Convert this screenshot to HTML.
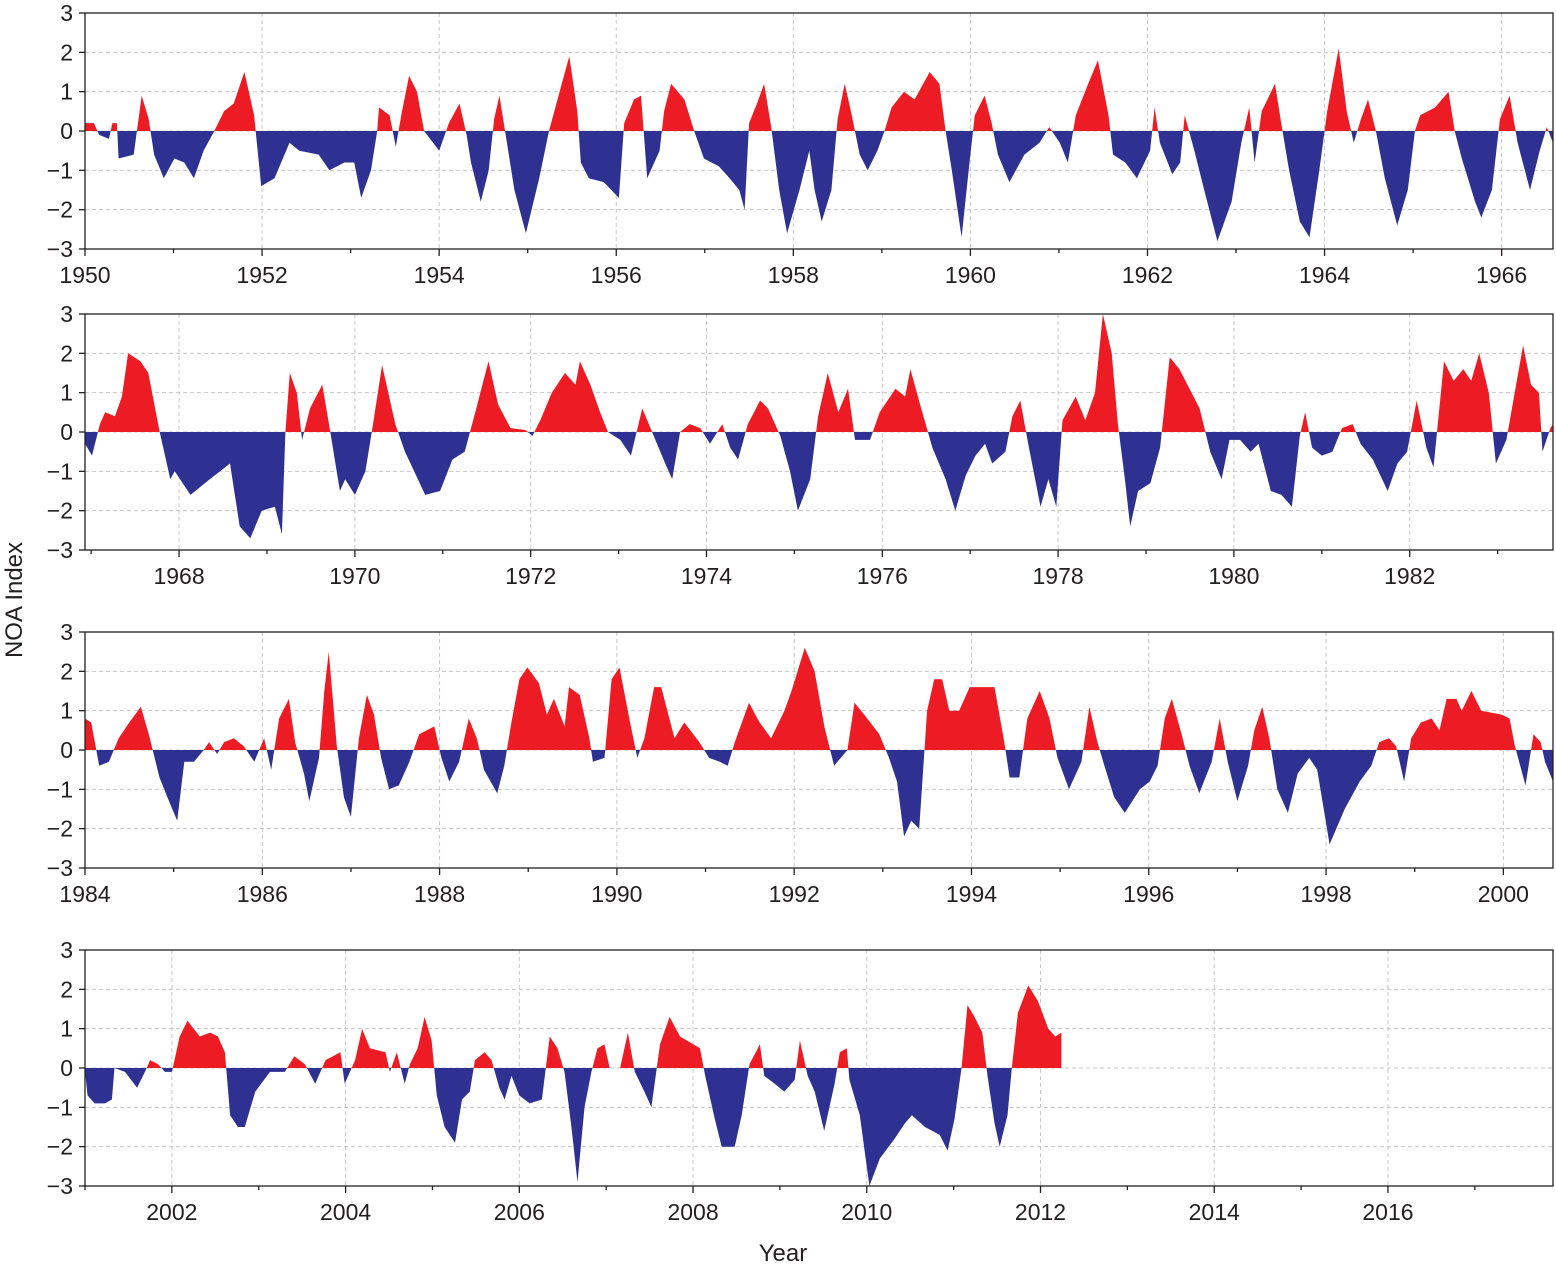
<!DOCTYPE html>
<html><head><meta charset="utf-8">
<style>
html,body{margin:0;padding:0;background:#fff;}
svg{display:block;font-family:"Liberation Sans",Arial,sans-serif;}
</style></head>
<body>
<svg id="chart" width="1556" height="1265" viewBox="0 0 1556 1265" xmlns="http://www.w3.org/2000/svg">
<text x="0" y="0" transform="translate(22,600) rotate(-90)" text-anchor="middle" font-size="24" fill="#231f20">NOA Index</text>
<text x="783" y="1261" text-anchor="middle" font-size="24" fill="#231f20">Year</text>
</svg>
<script>
const yTicks = [-3,-2,-1,0,1,2,3];
const p1Years = [1950.00,1950.10,1950.16,1950.27,1950.31,1950.36,1950.38,1950.55,1950.64,1950.72,1950.78,1950.89,1951.01,1951.12,1951.23,1951.34,1951.46,1951.57,1951.68,1951.80,1951.91,1951.99,1952.14,1952.31,1952.42,1952.64,1952.76,1952.93,1953.04,1953.12,1953.23,1953.30,1953.32,1953.44,1953.51,1953.58,1953.66,1953.75,1953.83,1954.00,1954.11,1954.23,1954.31,1954.36,1954.47,1954.56,1954.62,1954.68,1954.73,1954.85,1954.98,1955.13,1955.24,1955.36,1955.47,1955.56,1955.60,1955.69,1955.86,1956.03,1956.09,1956.20,1956.28,1956.35,1956.49,1956.54,1956.62,1956.77,1956.88,1956.99,1957.16,1957.28,1957.39,1957.45,1957.50,1957.59,1957.67,1957.75,1957.84,1957.93,1958.07,1958.18,1958.24,1958.32,1958.43,1958.50,1958.58,1958.66,1958.75,1958.84,1958.95,1959.03,1959.11,1959.25,1959.37,1959.54,1959.65,1959.72,1959.79,1959.90,1959.99,1960.05,1960.16,1960.24,1960.31,1960.44,1960.61,1960.78,1960.89,1961.01,1961.10,1961.19,1961.33,1961.44,1961.56,1961.61,1961.75,1961.88,1962.03,1962.08,1962.14,1962.28,1962.37,1962.42,1962.53,1962.64,1962.79,1962.95,1963.06,1963.15,1963.21,1963.29,1963.44,1963.51,1963.60,1963.72,1963.83,1963.94,1964.03,1964.16,1964.25,1964.33,1964.41,1964.49,1964.58,1964.68,1964.82,1964.94,1965.02,1965.08,1965.25,1965.40,1965.47,1965.55,1965.70,1965.77,1965.89,1965.98,1966.09,1966.18,1966.32,1966.43,1966.51,1966.58];
const p1Values = [0.2,0.2,-0.1,-0.2,0.2,0.2,-0.7,-0.6,0.9,0.3,-0.6,-1.2,-0.7,-0.8,-1.2,-0.5,0,0.5,0.7,1.5,0.4,-1.4,-1.2,-0.3,-0.5,-0.6,-1.0,-0.8,-0.8,-1.7,-1.0,0,0.6,0.4,-0.4,0.5,1.4,1.0,0,-0.5,0.2,0.7,-0.1,-0.8,-1.8,-1.0,0.3,0.9,0.2,-1.5,-2.6,-1.2,0,1.0,1.9,0.5,-0.8,-1.2,-1.3,-1.7,0.2,0.8,0.9,-1.2,-0.5,0.5,1.2,0.8,0,-0.7,-0.9,-1.2,-1.5,-2.0,0.2,0.7,1.2,0.1,-1.5,-2.6,-1.5,-0.5,-1.5,-2.3,-1.5,0.3,1.2,0.4,-0.6,-1.0,-0.5,0,0.6,1.0,0.8,1.5,1.2,0,-1.0,-2.7,-0.8,0.4,0.9,0.2,-0.6,-1.3,-0.6,-0.3,0.1,-0.3,-0.8,0.4,1.2,1.8,0.4,-0.6,-0.8,-1.2,-0.5,0.6,-0.3,-1.1,-0.8,0.4,-0.5,-1.5,-2.8,-1.8,-0.3,0.6,-0.8,0.5,1.2,0.2,-1.0,-2.3,-2.7,-1.0,0.5,2.1,0.5,-0.3,0.3,0.8,0,-1.2,-2.4,-1.5,0,0.4,0.6,1.0,0,-0.7,-1.8,-2.2,-1.5,0.3,0.9,-0.3,-1.5,-0.5,0.1,-0.3];
const p2Years = [1966.93,1967.01,1967.10,1967.16,1967.27,1967.35,1967.42,1967.56,1967.65,1967.78,1967.90,1967.95,1968.13,1968.35,1968.58,1968.69,1968.81,1968.94,1969.09,1969.17,1969.21,1969.26,1969.34,1969.40,1969.49,1969.63,1969.72,1969.83,1969.89,1970.00,1970.12,1970.20,1970.31,1970.46,1970.57,1970.80,1970.97,1971.11,1971.25,1971.37,1971.52,1971.63,1971.77,1971.94,1972.02,1972.11,1972.24,1972.39,1972.51,1972.56,1972.68,1972.79,1972.88,1973.02,1973.14,1973.27,1973.40,1973.53,1973.61,1973.70,1973.81,1973.93,1974.04,1974.18,1974.27,1974.36,1974.47,1974.61,1974.70,1974.84,1974.95,1975.04,1975.18,1975.27,1975.38,1975.50,1975.61,1975.69,1975.86,1975.97,1976.15,1976.26,1976.32,1976.43,1976.57,1976.72,1976.83,1976.95,1977.06,1977.17,1977.25,1977.40,1977.48,1977.57,1977.66,1977.80,1977.89,1977.98,1978.05,1978.20,1978.31,1978.42,1978.51,1978.61,1978.68,1978.76,1978.82,1978.91,1979.05,1979.16,1979.27,1979.38,1979.61,1979.73,1979.86,1979.95,1980.07,1980.19,1980.28,1980.42,1980.54,1980.66,1980.75,1980.81,1980.89,1981.00,1981.12,1981.23,1981.35,1981.44,1981.58,1981.75,1981.86,1981.97,1982.08,1982.19,1982.27,1982.39,1982.50,1982.61,1982.70,1982.79,1982.90,1982.98,1983.10,1983.21,1983.29,1983.38,1983.47,1983.51,1983.60,1983.63];
const p2Values = [-0.3,-0.6,0.2,0.5,0.4,0.9,2.0,1.8,1.5,0,-1.2,-1.0,-1.6,-1.2,-0.8,-2.4,-2.7,-2.0,-1.9,-2.6,0,1.5,1.0,-0.2,0.6,1.2,0,-1.5,-1.2,-1.6,-1.0,0.1,1.7,0.2,-0.5,-1.6,-1.5,-0.7,-0.5,0.5,1.8,0.7,0.1,0.05,-0.1,0.3,1.0,1.5,1.2,1.8,1.2,0.5,0,-0.2,-0.6,0.6,-0.1,-0.8,-1.2,0,0.2,0.1,-0.3,0.2,-0.4,-0.7,0.2,0.8,0.6,-0.1,-1.0,-2.0,-1.2,0.4,1.5,0.5,1.1,-0.2,-0.2,0.5,1.1,0.9,1.6,0.7,-0.4,-1.2,-2.0,-1.1,-0.6,-0.3,-0.8,-0.5,0.4,0.8,-0.3,-1.9,-1.2,-1.9,0.3,0.9,0.3,1.0,3.0,2.0,0.2,-1.2,-2.4,-1.5,-1.3,-0.4,1.9,1.6,0.6,-0.5,-1.2,-0.2,-0.2,-0.5,-0.3,-1.5,-1.6,-1.9,-0.1,0.5,-0.4,-0.6,-0.5,0.1,0.2,-0.3,-0.7,-1.5,-0.8,-0.5,0.8,-0.4,-0.9,1.8,1.3,1.6,1.3,2.0,1.0,-0.8,-0.2,1.2,2.2,1.2,1.0,-0.5,0.1,0.2];
const p3Years = [1984.00,1984.07,1984.16,1984.27,1984.38,1984.50,1984.63,1984.72,1984.84,1984.93,1985.04,1985.12,1985.23,1985.34,1985.40,1985.49,1985.57,1985.68,1985.79,1985.91,1986.02,1986.10,1986.19,1986.30,1986.37,1986.47,1986.53,1986.64,1986.70,1986.75,1986.84,1986.92,1987.00,1987.09,1987.18,1987.26,1987.34,1987.43,1987.54,1987.66,1987.77,1987.94,1988.02,1988.11,1988.22,1988.33,1988.42,1988.50,1988.65,1988.73,1988.81,1988.90,1988.99,1989.12,1989.21,1989.29,1989.41,1989.46,1989.58,1989.69,1989.73,1989.86,1989.94,1990.03,1990.14,1990.23,1990.31,1990.42,1990.50,1990.65,1990.76,1990.93,1991.04,1991.16,1991.25,1991.33,1991.49,1991.61,1991.74,1991.89,1991.97,1992.12,1992.23,1992.34,1992.45,1992.60,1992.68,1992.79,1992.96,1993.07,1993.16,1993.24,1993.32,1993.41,1993.50,1993.58,1993.67,1993.75,1993.86,1993.98,1994.15,1994.26,1994.37,1994.43,1994.54,1994.63,1994.77,1994.88,1994.97,1995.10,1995.24,1995.33,1995.42,1995.50,1995.61,1995.73,1995.90,1996.01,1996.10,1996.18,1996.26,1996.37,1996.46,1996.57,1996.71,1996.80,1996.89,1997.00,1997.12,1997.19,1997.28,1997.36,1997.45,1997.57,1997.68,1997.81,1997.90,1998.04,1998.21,1998.38,1998.51,1998.60,1998.71,1998.79,1998.88,1998.96,1999.07,1999.19,1999.28,1999.36,1999.47,1999.53,1999.64,1999.75,1999.98,2000.07,2000.13,2000.25,2000.34,2000.42,2000.47,2000.56];
const p3Values = [0.8,0.7,-0.4,-0.3,0.3,0.7,1.1,0.4,-0.7,-1.2,-1.8,-0.3,-0.3,0,0.2,-0.1,0.2,0.3,0.1,-0.3,0.3,-0.5,0.8,1.3,0.2,-0.6,-1.3,-0.2,1.5,2.5,0.1,-1.2,-1.7,0.3,1.4,0.9,-0.2,-1.0,-0.9,-0.3,0.4,0.6,-0.2,-0.8,-0.3,0.8,0.3,-0.5,-1.1,-0.4,0.7,1.8,2.1,1.7,0.9,1.3,0.6,1.6,1.4,0.3,-0.3,-0.2,1.8,2.1,0.8,-0.2,0.3,1.6,1.6,0.3,0.7,0.2,-0.2,-0.3,-0.4,0.2,1.2,0.7,0.3,1.0,1.5,2.6,2.0,0.6,-0.4,0,1.2,0.9,0.4,-0.2,-0.8,-2.2,-1.8,-2.0,1.0,1.8,1.8,1.0,1.0,1.6,1.6,1.6,0.2,-0.7,-0.7,0.8,1.5,0.8,-0.2,-1.0,-0.3,1.1,0.2,-0.4,-1.2,-1.6,-1.0,-0.8,-0.4,0.8,1.3,0.4,-0.4,-1.1,-0.3,0.8,-0.3,-1.3,-0.4,0.5,1.1,0.3,-1.0,-1.6,-0.6,-0.2,-0.5,-2.4,-1.5,-0.8,-0.4,0.2,0.3,0.1,-0.8,0.3,0.7,0.8,0.5,1.3,1.3,1.0,1.5,1.0,0.9,0.8,0.1,-0.9,0.4,0.2,-0.3,-0.8];
const p4Years = [2001.00,2001.03,2001.11,2001.23,2001.31,2001.34,2001.46,2001.60,2001.69,2001.75,2001.84,2001.92,2002.00,2002.09,2002.18,2002.32,2002.44,2002.53,2002.61,2002.67,2002.76,2002.84,2002.96,2003.13,2003.30,2003.41,2003.53,2003.65,2003.77,2003.94,2003.99,2004.11,2004.19,2004.28,2004.46,2004.51,2004.59,2004.68,2004.74,2004.83,2004.91,2004.99,2005.05,2005.14,2005.26,2005.34,2005.43,2005.49,2005.60,2005.68,2005.77,2005.83,2005.91,2006.00,2006.12,2006.26,2006.35,2006.44,2006.52,2006.60,2006.67,2006.75,2006.83,2006.90,2006.98,2007.04,2007.16,2007.25,2007.33,2007.44,2007.52,2007.62,2007.73,2007.85,2008.08,2008.14,2008.25,2008.33,2008.48,2008.56,2008.65,2008.77,2008.82,2008.94,2009.05,2009.17,2009.23,2009.32,2009.40,2009.51,2009.63,2009.69,2009.77,2009.80,2009.92,2010.03,2010.15,2010.32,2010.44,2010.52,2010.67,2010.84,2010.93,2011.01,2011.09,2011.16,2011.24,2011.33,2011.39,2011.47,2011.53,2011.62,2011.67,2011.74,2011.86,2011.97,2012.09,2012.17,2012.24];
const p4Values = [-0.1,-0.7,-0.9,-0.9,-0.8,0,-0.1,-0.5,-0.1,0.2,0.1,-0.1,-0.1,0.8,1.2,0.8,0.9,0.8,0.4,-1.2,-1.5,-1.5,-0.6,-0.1,-0.1,0.3,0.1,-0.4,0.2,0.4,-0.4,0.2,1.0,0.5,0.4,-0.1,0.4,-0.4,0.1,0.5,1.3,0.7,-0.7,-1.5,-1.9,-0.8,-0.6,0.2,0.4,0.2,-0.5,-0.8,-0.2,-0.7,-0.9,-0.8,0.8,0.5,-0.1,-1.5,-2.9,-1.0,-0.1,0.5,0.6,0,0,0.9,-0.1,-0.6,-1.0,0.6,1.3,0.8,0.5,-0.2,-1.3,-2.0,-2.0,-1.2,0.1,0.6,-0.2,-0.4,-0.6,-0.3,0.7,-0.2,-0.6,-1.6,-0.4,0.4,0.5,-0.3,-1.2,-3.0,-2.3,-1.8,-1.4,-1.2,-1.5,-1.7,-2.1,-1.3,0,1.6,1.3,0.9,-0.2,-1.4,-2.0,-1.2,0,1.4,2.1,1.7,1.0,0.8,0.9];
const panelStarts = [1950.00, 1966.93, 1984.00, 2001.00];
const panelEnds = [1966.58, 1983.63, 2000.56, 2017.90];
const panelTickFrom = [1950, 1968, 1984, 2002];
const panelTickTo = [1966, 1982, 2000, 2016];

const svg = document.getElementById('chart');
const NS = 'http://www.w3.org/2000/svg';
const L = 85, R = 1553;
const tops = [13, 314, 632, 950];
const H = 236;
const RED = '#ed1c24', BLUE = '#2e3192', AX = '#231f20', GRID = '#c8c8c8';
const series = [[p1Years,p1Values],[p2Years,p2Values],[p3Years,p3Values],[p4Years,p4Values]];

function mk(tag, attrs){ const e = document.createElementNS(NS, tag); for (const k in attrs) e.setAttribute(k, attrs[k]); svg.appendChild(e); return e; }

series.forEach((s, i) => {
  const top = tops[i], bot = top + H;
  const t0 = panelStarts[i], t1 = panelEnds[i];
  const xs = t => L + (t - t0) / (t1 - t0) * (R - L);
  const ys = v => top + (3 - v) / 6 * H;
  const y0 = ys(0);
  // grid
  yTicks.forEach(v => {
    if (v === 3 || v === -3) return;
    const g = mk('line', {x1:L, x2:R, y1:ys(v), y2:ys(v), stroke:GRID, 'stroke-dasharray':'4,3', 'stroke-width':1});
    
    
  });
  for (let yr = panelTickFrom[i]; yr <= panelTickTo[i]; yr += 2) {
    const g = mk('line', {x1:xs(yr), x2:xs(yr), y1:top, y2:bot, stroke:GRID, 'stroke-dasharray':'4,3', 'stroke-width':1});
    
    
  }
  // area
  const [yrs, vals] = s;
  let d = 'M' + xs(yrs[0]).toFixed(1) + ',' + y0.toFixed(1);
  yrs.forEach((t, k) => { d += 'L' + xs(t).toFixed(1) + ',' + ys(vals[k]).toFixed(1); });
  d += 'L' + xs(yrs[yrs.length-1]).toFixed(1) + ',' + y0.toFixed(1) + 'Z';
  const cpU = mk('clipPath', {id:'cu'+i}); const ru = document.createElementNS(NS,'rect');
  ru.setAttribute('x', L); ru.setAttribute('y', top); ru.setAttribute('width', R-L); ru.setAttribute('height', y0-top); cpU.appendChild(ru);
  const cpD = mk('clipPath', {id:'cd'+i}); const rd = document.createElementNS(NS,'rect');
  rd.setAttribute('x', L); rd.setAttribute('y', y0); rd.setAttribute('width', R-L); rd.setAttribute('height', bot-y0); cpD.appendChild(rd);
  const pos = mk('path', {d:d, fill:RED, 'clip-path':'url(#cu'+i+')'});
  
  
  const neg = mk('path', {d:d, fill:BLUE, 'clip-path':'url(#cd'+i+')'});
  
  
  // frame
  const fr = mk('rect', {x:L, y:top, width:R-L, height:H, fill:'none', stroke:AX, 'stroke-width':1.3});
  
  
  // y ticks
  yTicks.forEach(v => {
    const tk = mk('line', {x1:L-6, x2:L, y1:ys(v), y2:ys(v), stroke:AX, 'stroke-width':1.3});
    
    
    const lb = mk('text', {x:L-12, y:ys(v)+8, 'text-anchor':'end', 'font-size':23, fill:AX});
    lb.textContent = v < 0 ? '\u2212' + Math.abs(v) : String(v);
    
    
  });
  // x ticks
  for (let yr = Math.ceil(t0); yr <= t1; yr++) {
    const major = (yr - panelTickFrom[i]) % 2 === 0;
    const tk = mk('line', {x1:xs(yr), x2:xs(yr), y1:bot, y2:bot + (major ? 7 : 4), stroke:AX, 'stroke-width':1.3});
    
    
  }
  for (let yr = panelTickFrom[i]; yr <= panelTickTo[i]; yr += 2) {
    const lb = mk('text', {x:xs(yr), y:bot+34, 'text-anchor':'middle', 'font-size':23, fill:AX});
    lb.textContent = String(yr);
    
    
  }
});
</script>
</body></html>
